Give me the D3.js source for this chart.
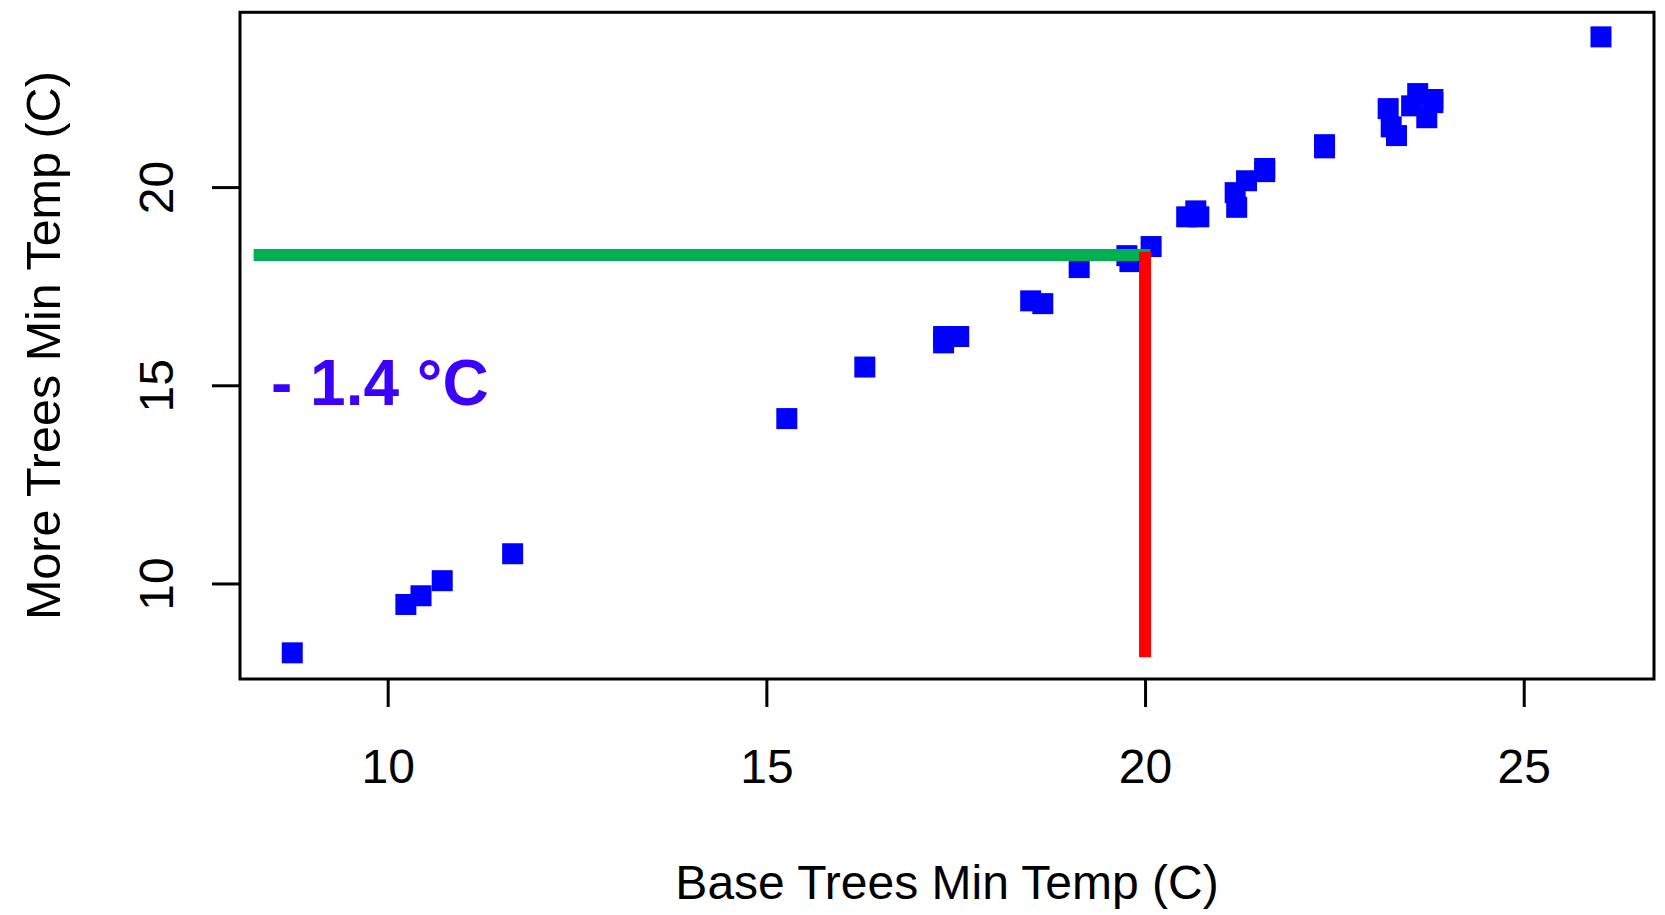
<!DOCTYPE html>
<html>
<head>
<meta charset="utf-8">
<script src="https://cdn.jsdelivr.net/npm/d3@7"></script>
<style>
body{margin:0;background:#fff;}
text{font-family:"Liberation Sans",Arial,sans-serif;}
</style>
</head>
<body>
<svg width="1665" height="915"></svg>
<script>
// base trees vs more trees minimum temperature
var baseMin = [8.74,10.24,10.44,10.72,11.65,15.27,16.30,17.34,17.54,17.34,18.49,18.65,19.13,19.76,19.80,20.08,20.55,20.67,20.71,21.19,21.21,21.34,21.58,21.58,22.37,22.37,23.21,23.25,23.32,23.52,23.60,23.80,23.80,23.72,26.02];
var moreMin = [8.25,9.47,9.69,10.07,10.75,14.16,15.46,16.23,16.23,16.07,17.13,17.06,17.97,18.27,18.12,18.50,19.25,19.40,19.25,19.86,19.49,20.16,20.47,20.39,21.07,20.99,21.98,21.52,21.30,22.05,22.36,22.21,22.13,21.75,23.79];
var xTicks = [10,15,20,25];
var yTicks = [10,15,20];
var greenLine = [[8.23,18.29],[20.07,18.29]];
var redLine = [[20,8.14],[20,18.37]];
var note = '- 1.4 °C';

var svg = d3.select('svg');
var L = 240, R = 1654, T = 12.3, B = 679;

var x = d3.scaleLinear().domain([8.05,26.72]).range([L,R]);
var y = d3.scaleLinear().domain([7.59,24.41]).range([B,T]);

var pts = baseMin.map(function(d,i){return [d,moreMin[i]];});
var sz = 21;
svg.selectAll('rect.pt').data(pts).enter().append('rect')
  .attr('class','pt')
  .attr('x',function(d){return x(d[0])-sz/2;})
  .attr('y',function(d){return y(d[1])-sz/2;})
  .attr('width',sz).attr('height',sz)
  .attr('fill','#0000ff');

var line = d3.line().x(function(d){return x(d[0]);}).y(function(d){return y(d[1]);});
svg.append('path').attr('d',line(greenLine)).attr('stroke','#00b050').attr('stroke-width',12).attr('fill','none');
svg.append('path').attr('d',line(redLine)).attr('stroke','#ff0000').attr('stroke-width',12).attr('fill','none');

// box
svg.append('rect').attr('x',L).attr('y',T).attr('width',R-L).attr('height',B-T)
  .attr('fill','none').attr('stroke','black').attr('stroke-width',3);

// axes
var xa = svg.append('g').attr('transform','translate(0,'+B+')')
  .call(d3.axisBottom(x).tickValues(xTicks).tickSize(28).tickPadding(42));
xa.select('.domain').remove();
xa.selectAll('line').attr('stroke','black').attr('stroke-width',3);
xa.selectAll('text').attr('font-size',48).attr('fill','black')
  .attr('font-family','"Liberation Sans",Arial,sans-serif');

var ya = svg.append('g').attr('transform','translate('+L+',0)')
  .call(d3.axisLeft(y).tickValues(yTicks).tickSize(28).tickPadding(0));
ya.select('.domain').remove();
ya.selectAll('line').attr('stroke','black').attr('stroke-width',3);
ya.selectAll('text')
  .attr('font-size',48).attr('fill','black')
  .attr('font-family','"Liberation Sans",Arial,sans-serif')
  .attr('x',null).attr('dy',null)
  .attr('text-anchor','middle')
  .attr('transform','translate(-67,0) rotate(-90)');

// titles
svg.append('text').attr('x',(L+R)/2).attr('y',899).attr('text-anchor','middle')
  .attr('font-size',48).text('Base Trees Min Temp (C)');
svg.append('text').attr('transform','translate(60,'+((T+B)/2)+') rotate(-90)')
  .attr('text-anchor','middle').attr('font-size',48.5).text('More Trees Min Temp (C)');

svg.append('text').attr('x',271).attr('y',405).attr('font-size',64).attr('font-weight','bold')
  .attr('fill','#3c00ff').text(note);
</script>
</body>
</html>
